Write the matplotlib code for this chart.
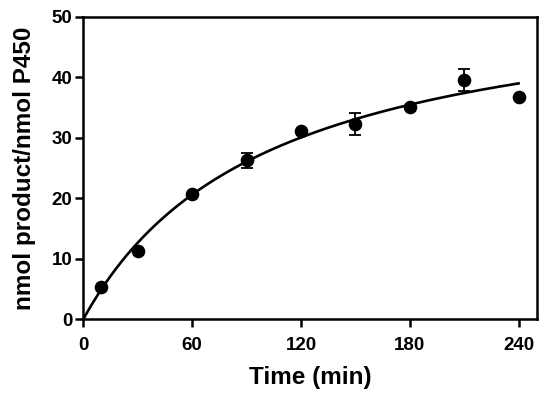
import matplotlib.pyplot as plt
import numpy as np

plt.rcParams['font.family'] = ['Liberation Sans', 'DejaVu Sans']
plt.rcParams['font.weight'] = 'bold'

time_min = [10, 30, 60, 90, 120, 150, 180, 210, 240]
product = [5.3, 11.3, 20.7, 26.3, 31.1, 32.3, 35.1, 39.5, 36.8]
err = [0, 0, 0, 1.25, 0, 1.85, 0, 1.85, 0]

# hyperbolic fit: Y = bmax * t / (kt + t)
bmax = 55.5
kt = 101.7

fig = plt.figure(figsize=(5.5, 3.99), dpi=100)
ax = fig.add_axes([0.1515, 0.2, 0.8243, 0.758])

t = np.linspace(0, 240, 300)
ax.plot(t, bmax * t / (kt + t), color='black', lw=1.9, zorder=2)

ax.errorbar(time_min, product, yerr=err, fmt='o', color='black', ms=8.8,
            elinewidth=1.3, capsize=4.3, capthick=1.3, zorder=3)

ax.set_xlim(0, 250)
ax.set_ylim(0, 50)
ax.set_xticks([0, 60, 120, 180, 240])
ax.set_yticks([0, 10, 20, 30, 40, 50])
for s in ax.spines.values():
    s.set_linewidth(1.8)
ax.tick_params(direction='out', length=5.5, width=1.8, labelsize=13.5)
ax.tick_params(axis='x', pad=7)
ax.tick_params(axis='y', pad=2.5)

ax.set_xlabel('Time (min)', fontsize=17.5, fontweight='bold', labelpad=9)
ax.set_ylabel('nmol product/nmol P450', fontsize=17.5, fontweight='bold', labelpad=11)

fig.savefig('out.png', dpi=100)
